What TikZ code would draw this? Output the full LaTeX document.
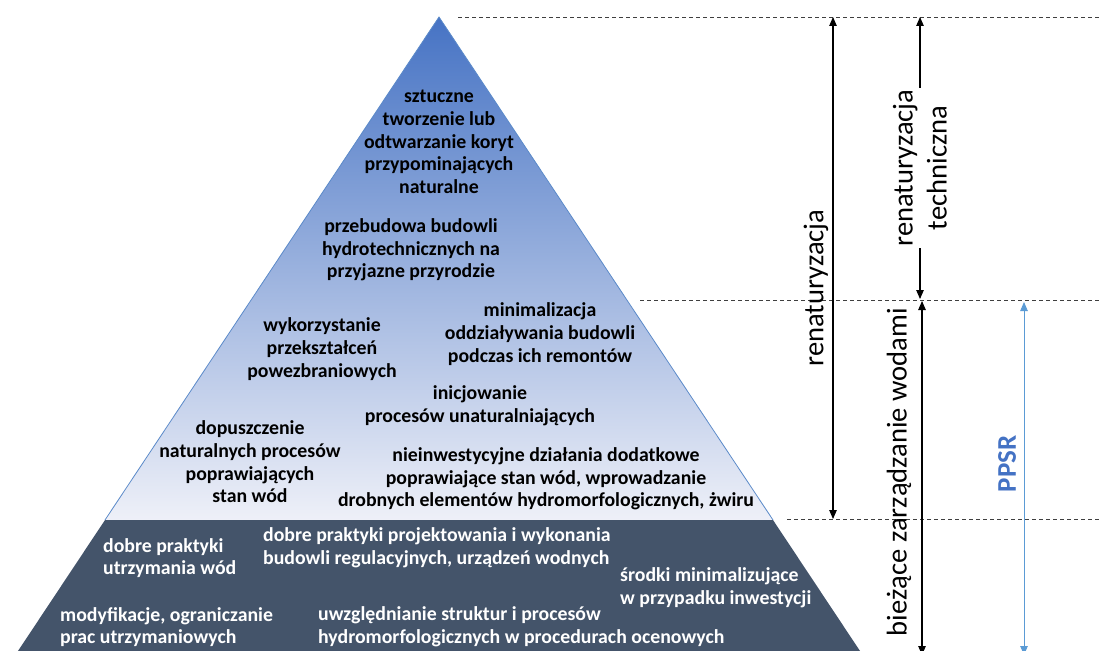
\documentclass[tikz,border=0pt]{standalone}
\usepackage{fontspec}
\setmainfont{Carlito}
\usetikzlibrary{arrows.meta}
\definecolor{apex}{HTML}{4673C4}
\definecolor{midband}{HTML}{AAB6DC}
\definecolor{base}{HTML}{EEF0F8}
\definecolor{slate}{HTML}{44546A}
\definecolor{rim}{HTML}{5B8AC9}
\definecolor{ppsr}{HTML}{4472C4}
\definecolor{ppsrline}{HTML}{5B9BD5}
\definecolor{guideline}{HTML}{3F3F3F}
\tikzset{
  >={Triangle[length=9pt,width=7.5pt]},
  every node/.style={font=\fontsize{19.8}{22.7}\selectfont\bfseries, inner sep=0pt},
  item/.style={align=center, text=black},
  itemw/.style={align=left, text=white, anchor=west},
  span/.style={<->, line width=1.1pt, draw=black},
  guide/.style={draw=guideline, dash pattern=on 4pt off 3pt, line width=0.8pt},
  side/.style={rotate=90, font=\fontsize{28.6}{34}\selectfont, align=center, text=black},
}

\begin{document}
\begin{tikzpicture}[x=1pt, y=-1pt]
\useasboundingbox (0,0) rectangle (1102,650);
\clip (0,0) rectangle (1102,650);

% ================= pyramid =================
\coordinate (apx) at (439,17);
\coordinate (midL) at (105,520);
\coordinate (midR) at (773,520);
\coordinate (botL) at (14,657);
\coordinate (botR) at (864,657);

\shade[top color=apex, middle color=midband, bottom color=base] (apx) -- (midR) -- (midL) -- cycle;
\draw[rim, line width=0.8pt] (midL) -- (apx) -- (midR);
\fill[slate] (midL) -- (midR) -- (botR) -- (botL) -- cycle;

% upper part: renaturation measures
\node[item] (sztuczne) at (439,142) {sztuczne\\tworzenie lub\\odtwarzanie koryt\\przypominających\\naturalne};
\node[item] (przebud) at (411,250) {przebudowa budowli\\hydrotechnicznych na\\przyjazne przyrodzie};
\node[item] (wykorz) at (322,349) {wykorzystanie\\przekształceń\\powezbraniowych};
\node[item] (minim) at (540,334) {minimalizacja\\oddziaływania budowli\\podczas ich remontów};
\node[item] (inicj) at (480,406) {inicjowanie\\procesów unaturalniających};
\node[item] (dopusz) at (250,462) {dopuszczenie\\naturalnych procesów\\poprawiających\\stan wód};
\node[item] (nieinw) at (546,479) {nieinwestycyjne działania dodatkowe\\poprawiające stan wód, wprowadzanie\\drobnych elementów hydromorfologicznych, żwiru};

% lower part: current water management
\node[itemw] (utrzym) at (103,558) {dobre praktyki\\utrzymania wód};
\node[itemw] (projekt) at (263,548) {dobre praktyki projektowania i wykonania\\budowli regulacyjnych, urządzeń wodnych};
\node[itemw] (srodki) at (620,588) {środki minimalizujące\\w przypadku inwestycji};
\node[itemw] (modyf) at (60,627) {modyfikacje, ograniczanie\\prac utrzymaniowych};
\node[itemw] (uwzgl) at (318,627) {uwzględnianie struktur i procesów\\hydromorfologicznych w procedurach ocenowych};

% ================= levels on the right =================
\draw[guide] (458,17) -- (1102,17);
\draw[guide] (640,300) -- (1102,300);
\draw[guide] (787,519) -- (1102,519);

\coordinate (renT) at (833,17);
\coordinate (renB) at (833,519);
\coordinate (techT) at (920,17);
\coordinate (techB) at (920,299);
\coordinate (biezT) at (922,301);
\coordinate (biezB) at (922,655);
\coordinate (ppsrT) at (1024,302);
\coordinate (ppsrB) at (1024,655);

\draw[span] (renT) -- (renB);
\draw[span] (techT) -- (techB);
\draw[span] (biezT) -- (biezB);
\draw[span, draw=ppsrline, line width=0.9pt] (ppsrT) -- (ppsrB);

\node[side] (renlab) at (816,288) {renaturyzacja};
\node[side, fill=white, inner sep=2pt] (techlab) at (920,168) {renaturyzacja\\techniczna};
\node[side] (biezlab) at (899,472) {bieżące zarządzanie wodami};
\node[side, font=\fontsize{27}{32}\selectfont\bfseries, text=ppsr] (ppsrlab) at (1007,464) {PPSR};

\end{tikzpicture}
\end{document}
